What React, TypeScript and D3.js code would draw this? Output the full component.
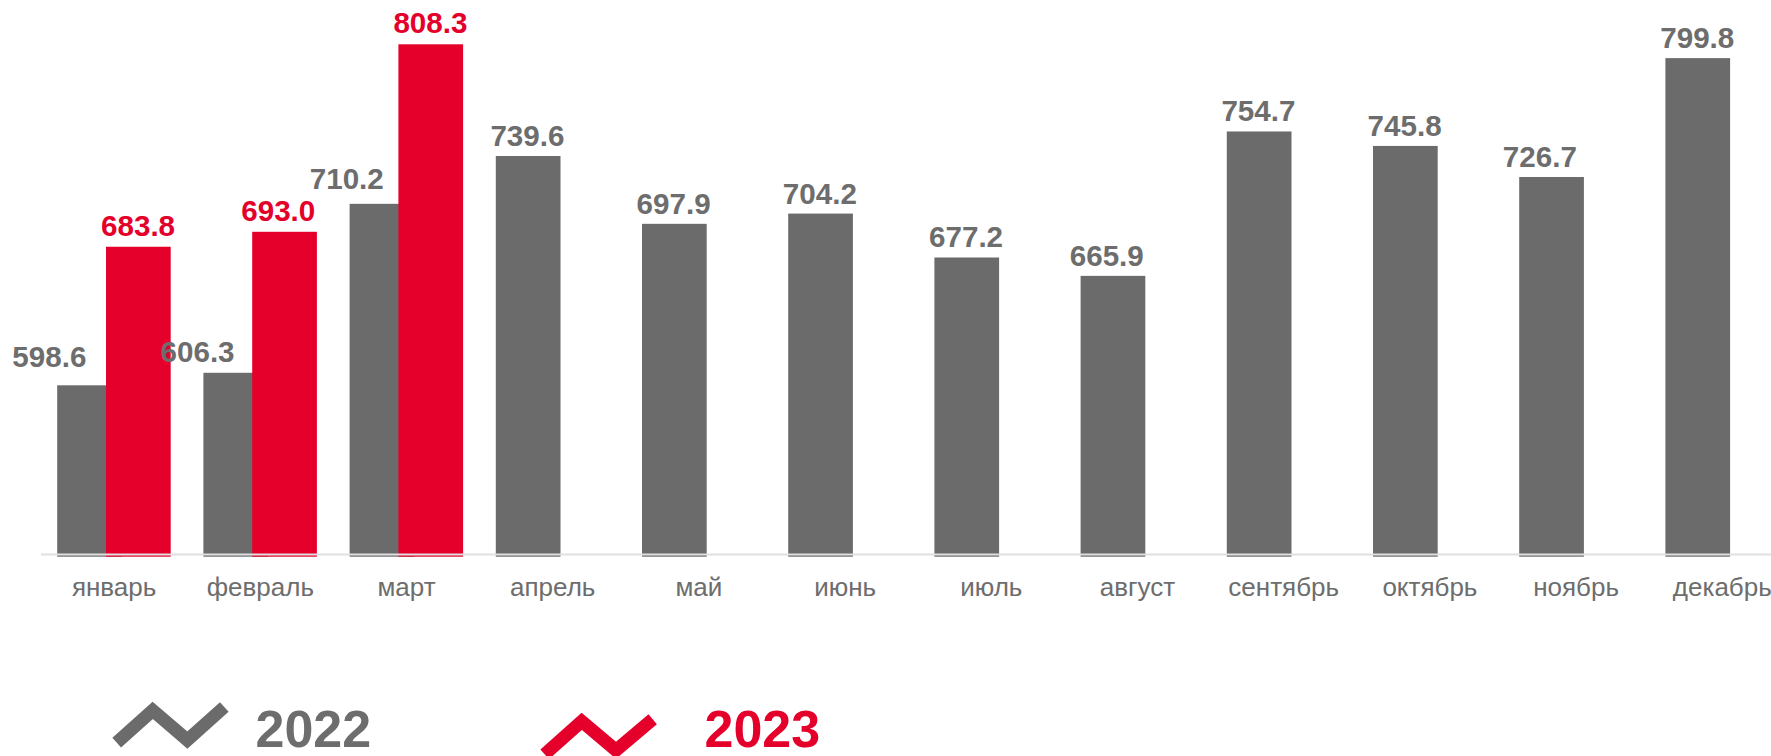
import React from "react";
import * as d3 from "d3";

const months = ["январь","февраль","март","апрель","май","июнь","июль","август","сентябрь","октябрь","ноябрь","декабрь"];
const values2022 = [598.6,606.3,710.2,739.6,697.9,704.2,677.2,665.9,754.7,745.8,726.7,799.8];
const values2023 = [683.8,693.0,808.3];
const series = ["2022","2023"];

const GRAY = "#6b6b6b";
const TEXTGRAY = "#6d6d6d";
const RED = "#e4002b";
const W = 1771, H = 756;
const BAR = 64.7;
const RED_OFFSET = 48.8;
const FONT = "'Liberation Sans', Arial, sans-serif";

// manual label nudges [dx, gap above bar top]
const nudge2022: [number, number][] = [[-40.2,18],[-38.2,11],[-35.2,15],[-0.7,10],[-0.7,10],[-0.7,10],[-0.7,10],[-6.2,10],[-0.7,10],[-0.7,10],[-11.7,10],[-0.5,10]];
const nudge2023: [number, number][] = [[-0.3,11],[-6.3,11],[-0.3,11]];

const x = d3.scaleBand<string>().domain(months).range([41, 41 + 146.2 * 12]);
const y = d3.scaleLinear().domain([493.2, 808.3]).range([556.7, 44.3]);

const grayLeft = (i: number) => (x(months[i]) as number) + 16.2;
const zig = d3.line<[number, number]>();
const legend2022: [number, number][] = [[116.7,742.7],[152.7,710.3],[187.3,740],[224.3,707]];
const legend2023: [number, number][] = [[544.7,754.3],[581.7,721.3],[616,750.3],[652.7,719.3]];

export default function App() {
  return (
    <svg width={W} height={H} viewBox={`0 0 ${W} ${H}`} style={{ position: "absolute", left: 0, top: 0, background: "#fff" }} fontFamily={FONT}>
      {values2022.map((v, i) => (
        <rect key={"g" + i} x={grayLeft(i)} y={y(v)} width={BAR} height={y(493.2) - y(v)} fill={GRAY} />
      ))}
      {values2023.map((v, i) => (
        <rect key={"r" + i} x={grayLeft(i) + RED_OFFSET} y={y(v)} width={BAR} height={y(493.2) - y(v)} fill={RED} />
      ))}
      <line x1={41} x2={W} y1={554.5} y2={554.5} stroke="#e0e0e0" strokeWidth={2} />
      <g opacity={0.999}>
        {months.map((m) => (
          <text key={m} x={(x(m) as number) + x.bandwidth() / 2} y={596} textAnchor="middle" fontSize={26} fill={TEXTGRAY}>{m}</text>
        ))}
        {values2022.map((v, i) => (
          <text key={"gl" + i} x={grayLeft(i) + BAR / 2 + nudge2022[i][0]} y={y(v) - nudge2022[i][1]} textAnchor="middle" fontSize={29.6} fontWeight="bold" fill={TEXTGRAY}>{v.toFixed(1)}</text>
        ))}
        {values2023.map((v, i) => (
          <text key={"rl" + i} x={grayLeft(i) + RED_OFFSET + BAR / 2 + nudge2023[i][0]} y={y(v) - nudge2023[i][1]} textAnchor="middle" fontSize={29.6} fontWeight="bold" fill={RED}>{v.toFixed(1)}</text>
        ))}
        <text x={255.5} y={747} fontSize={52} fontWeight="bold" fill={TEXTGRAY}>{series[0]}</text>
        <text x={704.5} y={747} fontSize={52} fontWeight="bold" fill={RED}>{series[1]}</text>
      </g>
      <path d={zig(legend2022) as string} fill="none" stroke={GRAY} strokeWidth={13} />
      <path d={zig(legend2023) as string} fill="none" stroke={RED} strokeWidth={13} />
    </svg>
  );
}
